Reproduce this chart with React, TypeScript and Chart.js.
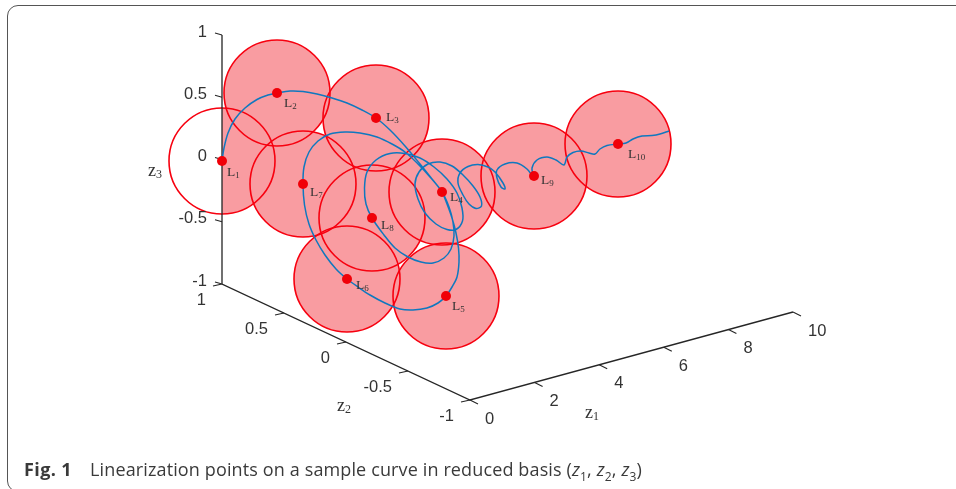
import React, { useEffect, useRef } from "react";
import { Chart, registerables } from "chart.js";

Chart.register(...registerables);

// Projected plane coordinates of the 3-D picture
const curveX = [222,224,228,235,245,257,268,277,290,303,317,332,347,362,376,390,405,420,432,442,447,452,456,458.5,459,457,452,446,438,427,413,400,385,370,358,347,336,325,316,309,304.5,303,304,309,318,330,345,360,377,392,405,418,430,442,449,453,454,451,444,433,421,408,395,384,372,366,364.5,367,376,390,405,420,434,447,457,462,462.5,456,447,436,425,418,415,419,428,440,452,463,473,480,481.5,476,469,463,458,460,468,478,488,495,503,505,501,497,497,505,517,527,533,532,537,547,556,564,567,573,581,589,595,600,607,618,626,633,642,652,660,669];
const curveY = [161,148,133,119,108,99.5,95,93,91,91.5,94,98,103,110,118,130,146,164,179,192,204,218,233,248,262,277,287,296,303,308,310,309,303,295,287,279,269,255,240,224,205,184,167,152,141,134,132,133,137,144,152,164,177,192,207,222,236,249,258,263,262,257,248,235,218,204,188,172,160,153.5,153.5,158,167,179,193,208,221,229.5,229.5,224,213,199,184,172,164,162,166,175,186,197,206,208.5,204,195,183,173,166.5,164.5,167,172,183,189,187,178,170,164,163,169,176,168,160,157,160,165,157,152.5,151,153,154,149,145.5,144,143,139,136,135.5,134,131];

const linearizationNames = ["1","2","3","4","5","6","7","8","9","10"];
const centerX = [222,277,376,442,446,347,303,372,534,618];
const centerY = [161,93,118,192,296,279,184,218,176,144];
const nameX = [227,284,386,450,452,356,310,381,541,628];
const nameY = [176,107,121,201,310,289,196,229,184,158];

const z3Ticks = ["1","0.5","0","-0.5","-1"];
const z2Ticks = ["1","0.5","0","-0.5","-1"];
const z1Ticks = ["0","2","4","6","8","10"];

const ORIGIN_Z3_TOP = { x: 222, y: 35 };
const CORNER_LEFT = { x: 222, y: 284 };
const CORNER_FRONT = { x: 470, y: 400 };
const CORNER_RIGHT = { x: 793, y: 312 };

const TEXT = "#333333";
const AXIS = "#262626";
const CAPTION = "#3a3a3a";

const along = (a: any, b: any, n: number, i: number) => ({
  x: a.x + ((b.x - a.x) * i) / (n - 1),
  y: a.y + ((b.y - a.y) * i) / (n - 1),
});

const axes = [
  { from: ORIGIN_Z3_TOP, to: CORNER_LEFT, labels: z3Ticks, tick: { x: -7, y: -2 }, text: { x: -15, y: -3 }, align: "right" },
  { from: CORNER_LEFT, to: CORNER_FRONT, labels: z2Ticks, tick: { x: -9, y: 2 }, text: { x: -16, y: 16.5 }, align: "right" },
  { from: CORNER_FRONT, to: CORNER_RIGHT, labels: z1Ticks, tick: { x: 8, y: 4 }, text: { x: 15, y: 19 }, align: "left" },
];

const tickSegments: any[] = [];
axes.forEach((a) => {
  a.labels.forEach((_, i) => {
    const p = along(a.from, a.to, a.labels.length, i);
    tickSegments.push(p, { x: p.x + a.tick.x, y: p.y + a.tick.y }, { x: NaN, y: NaN });
  });
});

const textPlugin = {
  id: "figureText",
  afterDatasetsDraw(chart: any) {
    const { ctx, scales } = chart;
    const px = (v: number) => scales.x.getPixelForValue(v);
    const py = (v: number) => scales.y.getPixelForValue(v);
    ctx.save();
    ctx.fillStyle = TEXT;

    ctx.font = '16.5px "Liberation Sans"';
    ctx.textBaseline = "middle";
    axes.forEach((a) => {
      ctx.textAlign = a.align;
      a.labels.forEach((t, i) => {
        const p = along(a.from, a.to, a.labels.length, i);
        ctx.fillText(t, px(p.x + a.text.x), py(p.y + a.text.y));
      });
    });

    ctx.textAlign = "left";
    ctx.textBaseline = "alphabetic";
    const sub = (main: string, s: string, x: number, y: number, mainSize: number, subSize: number, drop: number) => {
      ctx.font = `${mainSize}px "Liberation Serif"`;
      ctx.fillText(main, px(x), py(y));
      const w = ctx.measureText(main).width;
      ctx.font = `${subSize}px "Liberation Serif"`;
      ctx.fillText(s, px(x) + w, py(y) + drop);
    };
    linearizationNames.forEach((n, i) => sub("L", n, nameX[i], nameY[i], 13.5, 9, 1.5));
    sub("z", "3", 148, 176, 18, 12, 2);
    sub("z", "2", 337, 411, 18, 12, 2);
    sub("z", "1", 585, 418, 18, 12, 2);
    ctx.restore();
  },
};

const pts = (xs: number[], ys: number[]) => xs.map((x, i) => ({ x, y: ys[i], r: 53 }));

export default function App() {
  const ref = useRef<HTMLCanvasElement>(null);
  useEffect(() => {
    const circles = pts(centerX, centerY);
    const chart = new Chart(ref.current!, {
      type: "bubble",
      data: {
        datasets: [
          { type: "bubble", data: circles.slice(1), backgroundColor: "#f99ca1", borderWidth: 0, order: 10 },
          { type: "bubble", data: circles.slice(0, 1), backgroundColor: "#f99ca1", borderWidth: 0, order: 10, clip: { left: -CORNER_LEFT.x, right: 0, top: 0, bottom: 0 } },
          { type: "bubble", data: circles, backgroundColor: "rgba(0,0,0,0)", borderColor: "#f7000f", borderWidth: 1.6, order: 9 },
          { type: "line", data: [ORIGIN_Z3_TOP, CORNER_LEFT, CORNER_FRONT, CORNER_RIGHT], borderColor: AXIS, borderWidth: 1.3, pointRadius: 0, tension: 0, order: 8 },
          { type: "line", data: tickSegments, borderColor: AXIS, borderWidth: 1.1, pointRadius: 0, tension: 0, spanGaps: false, order: 7 },
          { type: "line", data: curveX.map((x, i) => ({ x, y: curveY[i] })), borderColor: "#0f78bf", borderWidth: 1.5, pointRadius: 0, tension: 0.33, order: 6 },
          { type: "scatter", data: circles.map((c) => ({ x: c.x, y: c.y })), backgroundColor: "#f00008", borderWidth: 0, pointRadius: 5, order: 5 },
        ] as any,
      },
      options: {
        animation: false,
        responsive: false,
        devicePixelRatio: 1,
        layout: { padding: 0, autoPadding: false },
        plugins: { legend: { display: false }, tooltip: { enabled: false }, title: { display: false } },
        scales: {
          x: { type: "linear", display: false, min: 0, max: 956 },
          y: { type: "linear", display: false, min: 0, max: 489, reverse: true },
        },
      },
      plugins: [textPlugin],
    } as any);
    return () => chart.destroy();
  }, []);
  return (
    <div style={{ position: "fixed", left: 0, top: 0, width: 956, height: 489, background: "#fff", overflow: "hidden" }}>
      <div style={{ position: "absolute", left: 7, top: 5, width: 1000, height: 487, border: "1.3px solid #555", borderRadius: 11, boxSizing: "border-box" }} />
      <canvas ref={ref} width={956} height={489} style={{ position: "absolute", left: 0, top: 0, width: 956, height: 489 }} />
      <div style={{ position: "absolute", left: 24, top: 457, fontFamily: '"Open Sans"', fontSize: 18, color: CAPTION, whiteSpace: "nowrap", lineHeight: "24px", letterSpacing: 0.13 }}>
        <b style={{ marginRight: 18, letterSpacing: 0.4 }}>Fig. 1</b>
        Linearization points on a sample curve in reduced basis (<i>z</i><sub style={{ fontSize: 12, lineHeight: 0 }}>1</sub>, <i>z</i><sub style={{ fontSize: 12, lineHeight: 0 }}>2</sub>, <i>z</i><sub style={{ fontSize: 12, lineHeight: 0 }}>3</sub>)
      </div>
    </div>
  );
}
